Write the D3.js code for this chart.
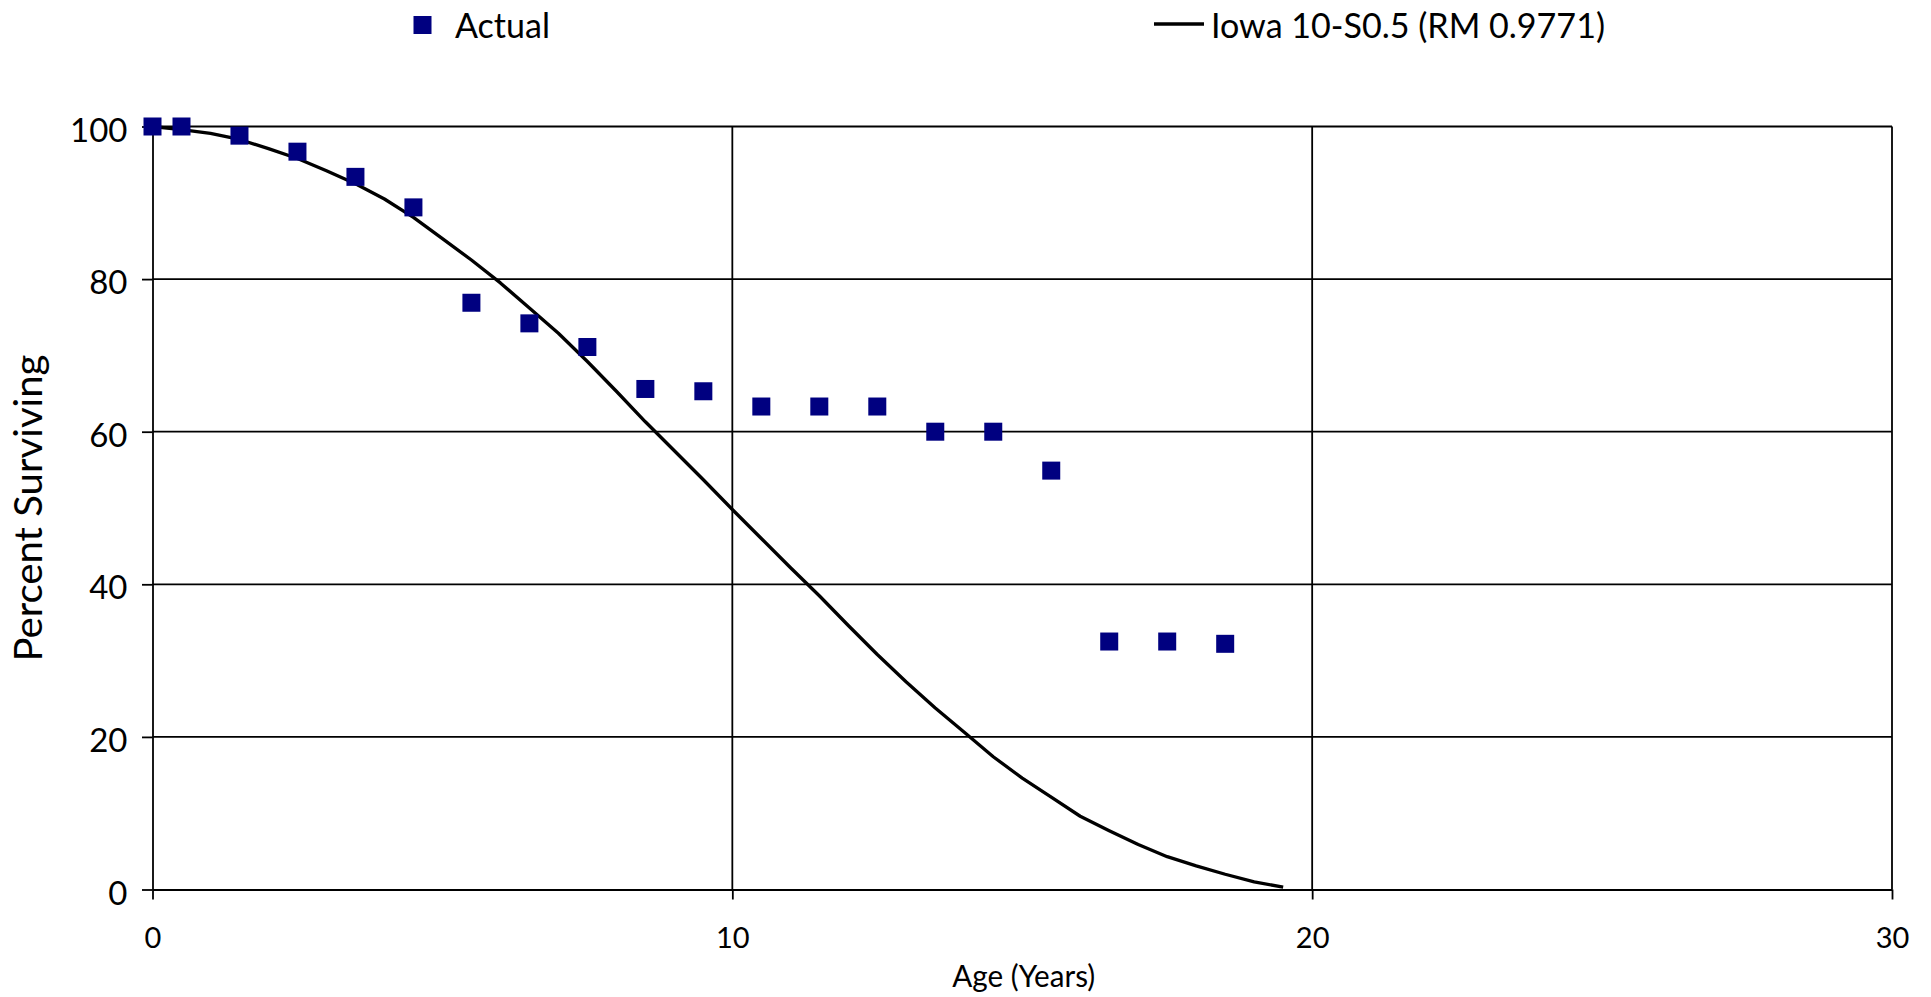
<!DOCTYPE html>
<html>
<head>
<meta charset="utf-8">
<script src="https://cdn.jsdelivr.net/npm/d3@7"></script>
<style>
  html, body { margin: 0; padding: 0; background: #fff; }
  svg { display: block; }
  text { font-family: Lato, "Open Sans", sans-serif; fill: #000; }
</style>
</head>
<body>
<svg id="chart" width="1931" height="997"></svg>
<script>
// Observed retirement data: age (years) and percent surviving
const actualAges = [0, 0.5, 1.5, 2.5, 3.5, 4.5, 5.5, 6.5, 7.5, 8.5, 9.5, 10.5, 11.5, 12.5, 13.5, 14.5, 15.5, 16.5, 17.5, 18.5];
const actualPct  = [100, 100, 98.8, 96.7, 93.4, 89.4, 76.9, 74.2, 71.1, 65.6, 65.3, 63.3, 63.3, 63.3, 60.0, 60.0, 54.9, 32.5, 32.5, 32.2];

// Fitted Iowa 10-S0.5 survivor curve
const curveAges = [0, 0.5, 1, 1.5, 2, 2.5, 3, 3.5, 4, 4.5, 5, 5.5, 6, 6.5, 7, 7.5, 8, 8.5, 9, 9.5,
                   10, 10.5, 11, 11.5, 12, 12.5, 13, 13.5, 14, 14.5, 15, 15.5, 16, 16.5, 17, 17.5, 18, 18.5, 19, 19.5];
const curvePct  = [100, 99.6, 99.1, 98.3, 97.1, 95.8, 94.2, 92.5, 90.5, 88.1, 85.3, 82.5, 79.5, 76.2, 72.9, 69.2, 65.3, 61.3, 57.5, 53.7,
                   49.8, 46.0, 42.2, 38.5, 34.6, 30.8, 27.2, 23.8, 20.6, 17.4, 14.6, 12.1, 9.6, 7.7, 5.9, 4.3, 3.1, 2.0, 1.0, 0.3];

const xTickValues = [0, 10, 20, 30];
const yTickValues = [0, 20, 40, 60, 80, 100];

const seriesNames = ["Actual", "Iowa 10-S0.5 (RM 0.9771)"];
const xTitle = "Age (Years)";
const yTitle = "Percent Surviving";

const W = 1931, H = 997;
const margin = { top: 126.5, left: 152.5, right: 39, bottom: 107.5 };
const innerW = W - margin.left - margin.right;
const innerH = H - margin.top - margin.bottom;

const svg = d3.select("#chart");
const g = svg.append("g").attr("transform", `translate(${margin.left},${margin.top})`);

const x = d3.scaleLinear().domain([0, 30]).range([0, innerW]);
const y = d3.scaleLinear().domain([0, 100]).range([innerH, 0]);

const gridStroke = 1.8;

// Horizontal gridlines
g.append("g").selectAll("line").data(yTickValues.filter(v => v > 0)).join("line")
  .attr("x1", 0).attr("x2", innerW)
  .attr("y1", d => y(d)).attr("y2", d => y(d))
  .attr("stroke", "#000").attr("stroke-width", gridStroke);

// Vertical gridlines
g.append("g").selectAll("line").data(xTickValues.filter(v => v > 0)).join("line")
  .attr("x1", d => x(d)).attr("x2", d => x(d))
  .attr("y1", 0).attr("y2", innerH)
  .attr("stroke", "#000").attr("stroke-width", gridStroke);

// Y axis
const yAxis = g.append("g")
  .call(d3.axisLeft(y).tickValues(yTickValues).tickSize(10.5).tickSizeOuter(0).tickFormat(d3.format("d")));
yAxis.select(".domain").attr("stroke", "#000").attr("stroke-width", gridStroke);
yAxis.selectAll(".tick line").attr("stroke", "#000").attr("stroke-width", gridStroke);
yAxis.selectAll(".tick text")
  .attr("x", -25).attr("dy", null).attr("y", 14.5)
  .attr("text-anchor", "end")
  .style("font-size", "33px").style("font-family", "Lato, 'Open Sans', sans-serif").attr("fill", "#000");

// X axis
const xAxis = g.append("g").attr("transform", `translate(0,${innerH})`)
  .call(d3.axisBottom(x).tickValues(xTickValues).tickSize(10).tickSizeOuter(0).tickFormat(d3.format("d")));
xAxis.select(".domain").attr("stroke", "#000").attr("stroke-width", gridStroke);
xAxis.selectAll(".tick line").attr("stroke", "#000").attr("stroke-width", gridStroke);
xAxis.selectAll(".tick text")
  .attr("y", 58).attr("dy", null)
  .attr("text-anchor", "middle")
  .style("font-size", "29px").style("font-family", "Lato, 'Open Sans', sans-serif").attr("fill", "#000");

// Survivor curve
const curveData = curveAges.map((a, i) => [a, curvePct[i]]);
g.append("path")
  .datum(curveData)
  .attr("fill", "none")
  .attr("stroke", "#000")
  .attr("stroke-width", 3.3)
  .attr("stroke-linejoin", "round")
  .attr("d", d3.line().x(d => x(d[0])).y(d => y(d[1])));

// Observed points
const markerSize = 18;
const actualData = actualAges.map((a, i) => [a, actualPct[i]]);
g.append("g").selectAll("rect").data(actualData).join("rect")
  .attr("x", d => x(d[0]) - markerSize / 2)
  .attr("y", d => y(d[1]) - markerSize / 2)
  .attr("width", markerSize).attr("height", markerSize)
  .attr("fill", "#000080");

// Axis titles
svg.append("text")
  .attr("x", margin.left + innerW / 2 + 1.5).attr("y", 987)
  .attr("text-anchor", "middle")
  .attr("textLength", 143).attr("lengthAdjust", "spacingAndGlyphs")
  .style("font-size", "30px")
  .text(xTitle);

svg.append("text")
  .attr("transform", `translate(41.5,${margin.top + innerH / 2}) rotate(-90)`)
  .attr("text-anchor", "middle")
  .attr("textLength", 307).attr("lengthAdjust", "spacingAndGlyphs")
  .style("font-size", "39px")
  .text(yTitle);

// Legend
const legend = svg.append("g");
legend.append("rect")
  .attr("x", 413.5).attr("y", 16).attr("width", markerSize).attr("height", markerSize)
  .attr("fill", "#000080");
legend.append("text")
  .attr("x", 455).attr("y", 37.7)
  .attr("textLength", 95).attr("lengthAdjust", "spacingAndGlyphs")
  .style("font-size", "34px")
  .text(seriesNames[0]);
legend.append("line")
  .attr("x1", 1154).attr("x2", 1204).attr("y1", 24).attr("y2", 24)
  .attr("stroke", "#000").attr("stroke-width", 3.3);
legend.append("text")
  .attr("x", 1211).attr("y", 37.7)
  .attr("textLength", 394).attr("lengthAdjust", "spacingAndGlyphs")
  .style("font-size", "34px")
  .text(seriesNames[1]);
</script>
</body>
</html>
